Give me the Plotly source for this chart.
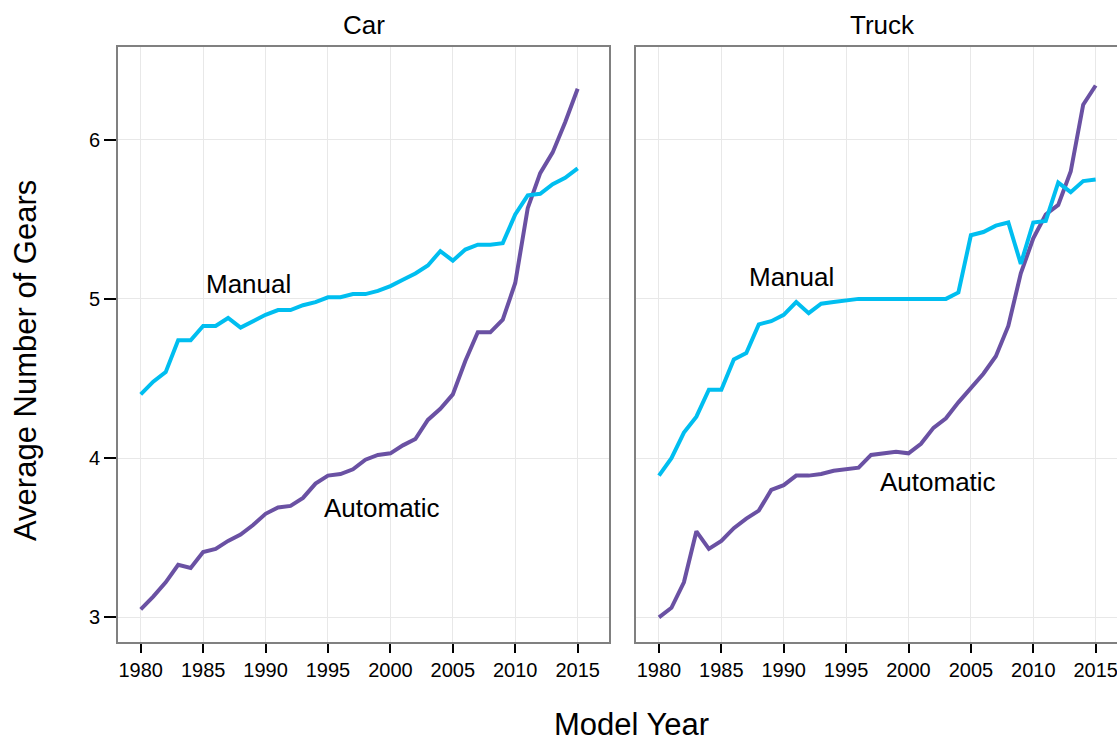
import plotly.graph_objects as go

# Average number of gears by model year, split by vehicle type and transmission
years = list(range(1980, 2016))

car_manual = [4.40, 4.48, 4.54, 4.74, 4.74, 4.83, 4.83, 4.88, 4.82, 4.86,
              4.90, 4.93, 4.93, 4.96, 4.98, 5.01, 5.01, 5.03, 5.03, 5.05,
              5.08, 5.12, 5.16, 5.21, 5.30, 5.24, 5.31, 5.34, 5.34, 5.35,
              5.53, 5.65, 5.66, 5.72, 5.76, 5.82]
car_automatic = [3.05, 3.13, 3.22, 3.33, 3.31, 3.41, 3.43, 3.48, 3.52, 3.58,
                 3.65, 3.69, 3.70, 3.75, 3.84, 3.89, 3.90, 3.93, 3.99, 4.02,
                 4.03, 4.08, 4.12, 4.24, 4.31, 4.40, 4.61, 4.79, 4.79, 4.87,
                 5.10, 5.57, 5.79, 5.92, 6.11, 6.32]
truck_manual = [3.89, 4.00, 4.16, 4.26, 4.43, 4.43, 4.62, 4.66, 4.84, 4.86,
                4.90, 4.98, 4.91, 4.97, 4.98, 4.99, 5.00, 5.00, 5.00, 5.00,
                5.00, 5.00, 5.00, 5.00, 5.04, 5.40, 5.42, 5.46, 5.48, 5.22,
                5.48, 5.49, 5.73, 5.67, 5.74, 5.75]
truck_automatic = [3.00, 3.06, 3.22, 3.54, 3.43, 3.48, 3.56, 3.62, 3.67, 3.80,
                   3.83, 3.89, 3.89, 3.90, 3.92, 3.93, 3.94, 4.02, 4.03, 4.04,
                   4.03, 4.09, 4.19, 4.25, 4.35, 4.44, 4.53, 4.64, 4.83, 5.16,
                   5.38, 5.53, 5.59, 5.80, 6.22, 6.34]

panel_titles = ["Car", "Truck"]
x_ticks = [1980, 1985, 1990, 1995, 2000, 2005, 2010, 2015]
y_ticks = [3, 4, 5, 6]

MANUAL_COLOR = "#00BEF0"
AUTO_COLOR = "#6A51A3"
FONT = "Liberation Sans, Arial, sans-serif"
W, H = 1117, 744


def px_x(p):
    return p / W


def px_y(p):
    return 1 - p / H


fig = go.Figure()

for xa, ya, man, auto in [("x", "y", car_manual, car_automatic),
                          ("x2", "y2", truck_manual, truck_automatic)]:
    fig.add_trace(go.Scatter(x=years, y=auto, mode="lines", xaxis=xa, yaxis=ya,
                             line=dict(color=AUTO_COLOR, width=4),
                             name="Automatic", showlegend=False))
    fig.add_trace(go.Scatter(x=years, y=man, mode="lines", xaxis=xa, yaxis=ya,
                             line=dict(color=MANUAL_COLOR, width=4),
                             name="Manual", showlegend=False))

common_x = dict(tickvals=x_ticks, ticks="outside", ticklen=9, tickwidth=2,
                tickcolor="black", showline=True, linecolor="#808080",
                linewidth=2, mirror=True, showgrid=True, gridcolor="#e8e8e8",
                gridwidth=1, zeroline=False, ticklabeloverflow="allow",
                tickfont=dict(family=FONT, size=20, color="black"))
common_y = dict(tickvals=y_ticks, range=[2.845, 6.582], showline=True,
                linecolor="#808080", linewidth=2, showgrid=True,
                gridcolor="#e8e8e8", gridwidth=1, zeroline=False,
                domain=[px_y(642), px_y(47)],
                tickfont=dict(family=FONT, size=20, color="black"))

fig.update_layout(
    width=W, height=H,
    margin=dict(l=0, r=0, t=0, b=0),
    plot_bgcolor="white", paper_bgcolor="white",
    showlegend=False,
    xaxis=dict(domain=[px_x(118), px_x(609)], range=[1978.18, 2017.51],
               anchor="y", **common_x),
    yaxis=dict(anchor="x", ticks="outside", ticklen=12, tickwidth=2,
               tickcolor="black", mirror=True, **common_y),
    xaxis2=dict(domain=[px_x(636), 1.0], range=[1978.16, 2016.71],
                anchor="y2", **common_x),
    yaxis2=dict(anchor="x2", ticks="", showticklabels=False, mirror=False,
                **common_y),
)

text_font = dict(family=FONT, size=26, color="black")


def label(text, x, y, xref, yref, font=text_font, angle=0, yanchor="middle"):
    return dict(text=text, x=x, y=y, xref=xref, yref=yref, showarrow=False,
                xanchor="center", yanchor=yanchor, textangle=angle, font=font)


title_font = dict(family=FONT, size=31, color="black")
annotations = [
    label(panel_titles[0], px_x(363.5), px_y(25), "paper", "paper"),
    label(panel_titles[1], px_x(882), px_y(25), "paper", "paper"),
    label("Manual", 1988.67, 5.094, "x", "y"),
    label("Automatic", 1999.3, 3.688, "x", "y"),
    label("Manual", 1990.66, 5.138, "x2", "y2"),
    label("Automatic", 2002.36, 3.851, "x2", "y2"),
    label("Model Year", px_x(631), 0.0, "paper", "paper", title_font,
          yanchor="bottom"),
    label("Average Number of Gears", px_x(25), px_y(361), "paper", "paper",
          title_font, angle=-90),
]
fig.update_layout(annotations=annotations)

fig.write_html("out.html")
